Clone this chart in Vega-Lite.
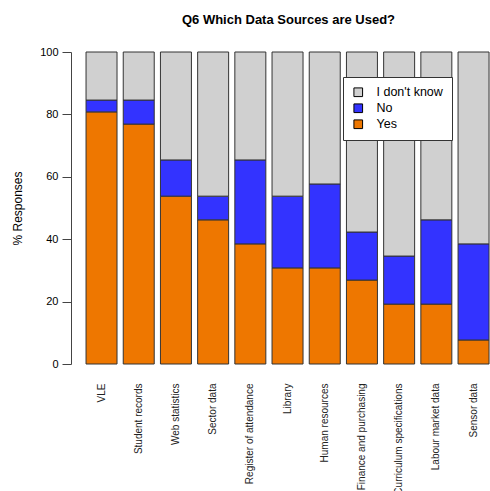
{
  "$schema": "https://vega.github.io/schema/vega-lite/v6.json",
  "autosize": "none",
  "width": 419,
  "height": 312,
  "padding": {"left": 71, "top": 52, "right": 0, "bottom": 127},
  "background": "white",
  "title": {"text": "Q6 Which Data Sources are Used?", "font": "Liberation Sans", "fontSize": 13, "fontWeight": "bold", "anchor": "middle", "dx": 8, "offset": 19, "color": "black"},
  "config": {"view": {"stroke": null}, "font": "Liberation Sans"},
  "data": {"values": [
    {"source": "VLE", "response": "Yes", "ord": 1, "value": 80.8},
    {"source": "VLE", "response": "No", "ord": 2, "value": 3.8},
    {"source": "VLE", "response": "I don't know", "ord": 3, "value": 15.4},
    {"source": "Student records", "response": "Yes", "ord": 1, "value": 76.9},
    {"source": "Student records", "response": "No", "ord": 2, "value": 7.7},
    {"source": "Student records", "response": "I don't know", "ord": 3, "value": 15.4},
    {"source": "Web statistics", "response": "Yes", "ord": 1, "value": 53.8},
    {"source": "Web statistics", "response": "No", "ord": 2, "value": 11.6},
    {"source": "Web statistics", "response": "I don't know", "ord": 3, "value": 34.6},
    {"source": "Sector data", "response": "Yes", "ord": 1, "value": 46.2},
    {"source": "Sector data", "response": "No", "ord": 2, "value": 7.6},
    {"source": "Sector data", "response": "I don't know", "ord": 3, "value": 46.2},
    {"source": "Register of  attendance", "response": "Yes", "ord": 1, "value": 38.5},
    {"source": "Register of  attendance", "response": "No", "ord": 2, "value": 26.9},
    {"source": "Register of  attendance", "response": "I don't know", "ord": 3, "value": 34.6},
    {"source": "Library", "response": "Yes", "ord": 1, "value": 30.8},
    {"source": "Library", "response": "No", "ord": 2, "value": 23.0},
    {"source": "Library", "response": "I don't know", "ord": 3, "value": 46.2},
    {"source": "Human resources", "response": "Yes", "ord": 1, "value": 30.8},
    {"source": "Human resources", "response": "No", "ord": 2, "value": 26.9},
    {"source": "Human resources", "response": "I don't know", "ord": 3, "value": 42.3},
    {"source": "Finance and purchasing", "response": "Yes", "ord": 1, "value": 26.9},
    {"source": "Finance and purchasing", "response": "No", "ord": 2, "value": 15.4},
    {"source": "Finance and purchasing", "response": "I don't know", "ord": 3, "value": 57.7},
    {"source": "Curriculum specifications", "response": "Yes", "ord": 1, "value": 19.2},
    {"source": "Curriculum specifications", "response": "No", "ord": 2, "value": 15.4},
    {"source": "Curriculum specifications", "response": "I don't know", "ord": 3, "value": 65.4},
    {"source": "Labour market data", "response": "Yes", "ord": 1, "value": 19.2},
    {"source": "Labour market data", "response": "No", "ord": 2, "value": 27.0},
    {"source": "Labour market data", "response": "I don't know", "ord": 3, "value": 53.8},
    {"source": "Sensor data", "response": "Yes", "ord": 1, "value": 7.7},
    {"source": "Sensor data", "response": "No", "ord": 2, "value": 30.8},
    {"source": "Sensor data", "response": "I don't know", "ord": 3, "value": 61.5}
  ]},
  "mark": {"type": "bar", "stroke": "#333333", "strokeWidth": 1},
  "encoding": {
    "x": {
      "field": "source", "type": "nominal", "sort": null,
      "scale": {"paddingInner": 0.167, "paddingOuter": 0.215, "align": 0.94},
      "axis": {"title": null, "labelAngle": -90, "labelAlign": "right", "labelBaseline": "middle", "ticks": false, "domain": false, "labelPadding": 19, "labelFontSize": 10, "labelColor": "#222", "labelFont": "Liberation Sans", "labelLimit": 200}
    },
    "y": {
      "field": "value", "type": "quantitative", "stack": "zero",
      "scale": {"domain": [0, 100], "nice": false},
      "axis": {"title": "% Responses", "values": [0, 20, 40, 60, 80, 100], "grid": false, "tickSize": 9, "tickColor": "#444", "domainColor": "#444", "labelFontSize": 11, "labelColor": "black", "labelPadding": 4, "titleFontSize": 12, "titleFontWeight": "normal", "titleColor": "black", "titlePadding": 15}
    },
    "color": {
      "field": "response", "type": "nominal",
      "scale": {"domain": ["I don't know", "No", "Yes"], "range": ["#D0D0D0", "#3333FF", "#EE7700"]},
      "legend": {"title": null, "orient": "none", "legendX": 272, "legendY": 25, "fillColor": "white", "strokeColor": "#333", "padding": 9, "symbolType": "square", "symbolSize": 75, "symbolStrokeColor": "black", "symbolStrokeWidth": 1, "labelFontSize": 12.5, "labelColor": "black", "rowPadding": 2, "labelOffset": 12}
    },
    "order": {"field": "ord", "type": "quantitative"}
  }
}
